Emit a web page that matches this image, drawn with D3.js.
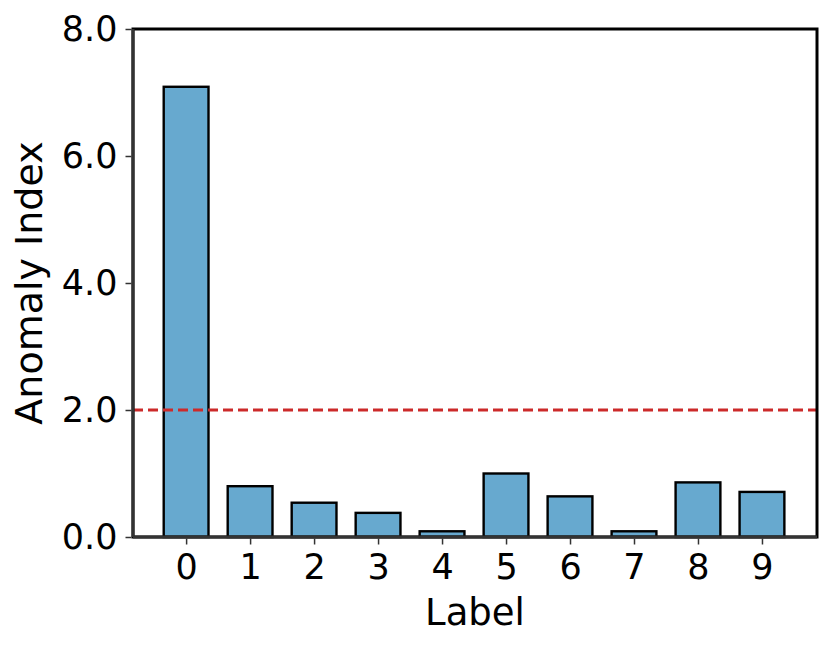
<!DOCTYPE html>
<html><head><meta charset="utf-8">
<script src="https://cdn.jsdelivr.net/npm/d3@7"></script>
<style>body{margin:0;background:#fff}</style>
</head><body>
<svg id="chart" width="830" height="647"></svg>
<script>
const categories = ["0","1","2","3","4","5","6","7","8","9"];
const values = [7.09, 0.80, 0.54, 0.38, 0.09, 1.00, 0.64, 0.09, 0.86, 0.71];
const yTicks = [0, 2, 4, 6, 8];
const threshold = 2.0;

const W = 830, H = 647;
const m = {left: 133, right: 13, top: 29, bottom: 110};
const svg = d3.select("#chart");
const font = "'DejaVu Sans', sans-serif";

const x = d3.scaleLinear().domain([-0.83, 9.86]).range([m.left, W - m.right]);
const y = d3.scaleLinear().domain([0, 8]).range([H - m.bottom, m.top]);
const bw = x(0.7) - x(0);

svg.append("g").selectAll("rect").data(values).join("rect")
  .attr("x", (d, i) => x(i) - bw / 2)
  .attr("y", d => y(d))
  .attr("width", bw)
  .attr("height", d => y(0) - y(d))
  .attr("fill", "#67a9cf")
  .attr("stroke", "#000")
  .attr("stroke-width", 2.4);

svg.append("line")
  .attr("x1", x.range()[0]).attr("x2", x.range()[1])
  .attr("y1", y(threshold)).attr("y2", y(threshold))
  .attr("stroke", "#cc2a2a").attr("stroke-width", 3)
  .attr("stroke-dasharray", "10,5");

// frame
svg.append("rect")
  .attr("x", m.left).attr("y", m.top)
  .attr("width", W - m.right - m.left).attr("height", H - m.bottom - m.top)
  .attr("fill", "none").attr("stroke", "#000").attr("stroke-width", 3);
svg.append("line").attr("x1", m.left).attr("x2", W - m.right)
  .attr("y1", y(0)).attr("y2", y(0)).attr("stroke", "#333").attr("stroke-width", 3);
svg.append("line").attr("x1", m.left).attr("x2", m.left)
  .attr("y1", m.top).attr("y2", y(0)).attr("stroke", "#333").attr("stroke-width", 3);

const yAxis = svg.append("g").attr("transform", `translate(${m.left - 1.5},0)`)
  .call(d3.axisLeft(y).tickValues(yTicks).tickFormat(d3.format(".1f")).tickSize(6).tickPadding(8));
yAxis.select(".domain").remove();
yAxis.selectAll("line").attr("stroke", "#333").attr("stroke-width", 1.5);
yAxis.selectAll("text").attr("font-family", font).attr("font-size", 35).attr("fill", "#000");

const xAxis = svg.append("g").attr("transform", `translate(0,${y(0) + 1.5})`)
  .call(d3.axisBottom(x).tickValues(d3.range(categories.length)).tickFormat(i => categories[i]).tickSize(6).tickPadding(10));
xAxis.select(".domain").remove();
xAxis.selectAll("line").attr("stroke", "#333").attr("stroke-width", 1.5);
xAxis.selectAll("text").attr("font-family", font).attr("font-size", 35).attr("fill", "#000");

svg.append("text").attr("x", (m.left + W - m.right) / 2).attr("y", 625)
  .attr("text-anchor", "middle").attr("font-family", font).attr("font-size", 37).text("Label");
svg.append("text").attr("transform", `translate(42,283) rotate(-90)`)
  .attr("text-anchor", "middle").attr("font-family", font).attr("font-size", 38).text("Anomaly Index");
</script>
</body></html>
